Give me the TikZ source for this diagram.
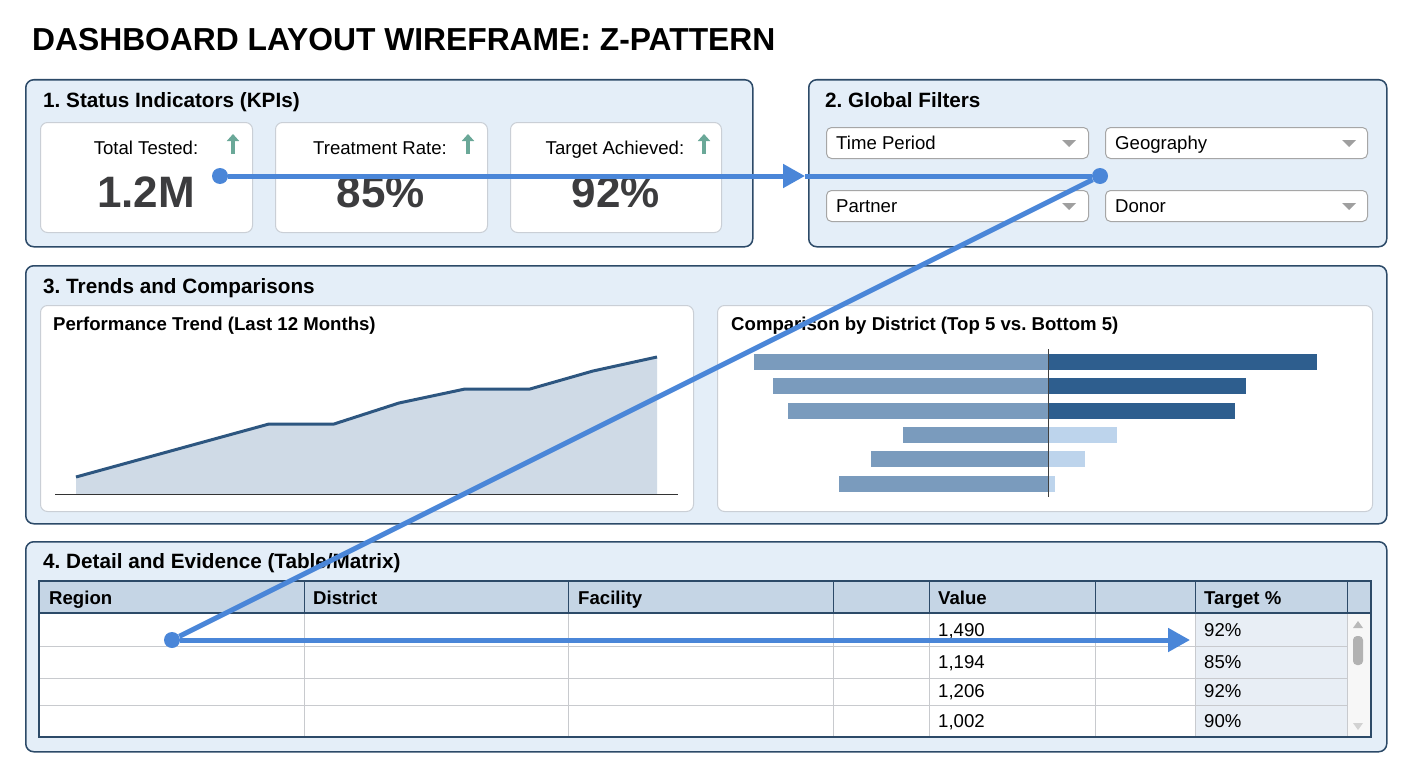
\documentclass[tikz,border=0pt]{standalone}
\usepackage{fontspec}
\setmainfont{Liberation Sans}
\usetikzlibrary{arrows.meta}
\frenchspacing

\definecolor{panelfill}{RGB}{228,238,248}
\definecolor{panelline}{RGB}{44,74,104}
\definecolor{cardline}{RGB}{202,207,214}
\definecolor{upgreen}{RGB}{106,168,152}
\definecolor{bignum}{RGB}{60,60,62}
\definecolor{zblue}{RGB}{74,134,216}
\definecolor{trendline}{RGB}{45,86,128}
\definecolor{trendfill}{RGB}{207,218,230}
\definecolor{barmid}{RGB}{122,155,189}
\definecolor{bardark}{RGB}{46,94,142}
\definecolor{barlight}{RGB}{189,212,236}
\definecolor{headfill}{RGB}{197,213,229}
\definecolor{gridgray}{RGB}{200,202,206}
\definecolor{targetfill}{RGB}{232,238,245}

\begin{document}
\begin{tikzpicture}[x=1pt, y=-1pt,
    panel/.style={draw=panelline, line width=1.5pt, fill=panelfill, rounded corners=8pt, anchor=north west, inner sep=0pt},
    card/.style={draw=cardline, line width=1pt, fill=white, rounded corners=7pt, anchor=north west, inner sep=0pt},
    dropbox/.style={draw=gray!70, line width=1pt, fill=white, rounded corners=5pt, anchor=north west, inner sep=0pt, minimum width=262pt, minimum height=31pt},
    ptitle/.style={anchor=base west, inner sep=0pt, font=\fontsize{20.7}{24}\selectfont\bfseries},
    ctitle/.style={anchor=base west, inner sep=0pt, font=\fontsize{18.6}{22}\selectfont\bfseries},
    kpilabel/.style={anchor=base, inner sep=0pt, font=\fontsize{18.6}{22}\selectfont},
    kpivalue/.style={anchor=base, inner sep=0pt, text=bignum, font=\fontsize{44}{50}\selectfont\bfseries},
    celltext/.style={anchor=base west, inner sep=0pt, font=\fontsize{18.6}{22}\selectfont},
    headtext/.style={celltext, font=\fontsize{18.6}{22}\selectfont\bfseries},
    zdot/.style={circle, fill=zblue, inner sep=0pt, minimum size=16pt},
    zpath/.style={draw=zblue, line width=5pt},
    ztip/.style={-{Triangle[length=22pt, width=23pt]}}]
    \useasboundingbox (0,0) rectangle (1408,768);

    % Title
    \node[anchor=base west, inner sep=0pt, font=\fontsize{31.8}{36}\selectfont\bfseries] (title) at (32,51) {DASHBOARD LAYOUT WIREFRAME: Z-PATTERN};

    % Panels
    \node[panel, minimum width=727pt, minimum height=167pt] (kpis) at (25,79) {};
    \node[panel, minimum width=578pt, minimum height=167pt] (filters) at (808,79) {};
    \node[panel, minimum width=1361pt, minimum height=258pt] (trends) at (25,265) {};
    \node[panel, minimum width=1361pt, minimum height=210pt] (detail) at (25,541) {};

    \node[ptitle] (kpistitle) at (43,107) {1. Status Indicators (KPIs)};
    \node[ptitle] (filterstitle) at (825,107) {2. Global Filters};
    \node[ptitle] (trendstitle) at (43,293) {3. Trends and Comparisons};
    \node[ptitle] (detailtitle) at (43,568) {4. Detail and Evidence (Table/Matrix)};

    % KPI cards
    \node[card, minimum width=212pt, minimum height=110pt] (tested) at (40,122) {};
    \node[card, minimum width=212pt, minimum height=110pt] (treat) at (275,122) {};
    \node[card, minimum width=211pt, minimum height=110pt] (target) at (510,122) {};

    \node[kpilabel] (testedlbl) at (146,154) {Total Tested:};
    \node[kpilabel] (treatlbl) at (380,154) {Treatment Rate:};
    \node[kpilabel] (targetlbl) at (615,154) {Target Achieved:};
    \node[kpivalue] (testedval) at (146,207) {1.2M};
    \node[kpivalue] (treatval) at (381,207) {85\%};
    \node[kpivalue] (targetval) at (616,207) {92\%};

    \foreach \x in {233,468,704}
        \draw[upgreen, line width=3.5pt, -{Triangle[length=7pt, width=12pt]}] (\x,154) -- (\x,134);

    % Filters
    \node[dropbox] (period) at (826,127) {};
    \node[dropbox] (geo) at (1105,127) {};
    \node[dropbox] (partner) at (826,190) {};
    \node[dropbox] (donor) at (1105,190) {};

    \node[celltext] (periodtxt) at (836,149) {Time Period};
    \node[celltext] (geotxt) at (1115,149) {Geography};
    \node[celltext] (partnertxt) at (836,212) {Partner};
    \node[celltext] (donortxt) at (1115,212) {Donor};

    \foreach \x/\y in {1069/140, 1349/140, 1069/203, 1349/203}
        \fill[gray!75] (\x-7,\y) -- (\x+7,\y) -- (\x,\y+7) -- cycle;

    % Trend chart
    \node[card, minimum width=653pt, minimum height=206pt] (trend) at (40,305) {};
    \node[ctitle] (trendtitle) at (53,330) {Performance Trend (Last 12 Months)};
    \fill[trendfill] (76,494) -- (76,477) -- (269,424) -- (334,424) -- (399,403) -- (465,389)
        -- (530,389) -- (593,371) -- (657,357) -- (657,494) -- cycle;
    \draw[trendline, line width=3pt, line join=round] (76,477) -- (269,424) -- (334,424) -- (399,403)
        -- (465,389) -- (530,389) -- (593,371) -- (657,357);
    \draw[black!80, line width=1pt] (55,494) -- (678,494);

    % Comparison chart
    \node[card, minimum width=655pt, minimum height=206pt] (compare) at (717,305) {};
    \node[ctitle] (comparetitle) at (731,330) {Comparison by District (Top 5 vs. Bottom 5)};
    \foreach \y/\l/\r/\c in {354/754/1317/bardark, 378/773/1246/bardark, 403/788/1235/bardark,
                             427/903/1117/barlight, 451/871/1085/barlight, 476/839/1055/barlight} {
        \fill[barmid] (\l,\y) rectangle (1048,\y+16);
        \fill[\c] (1048,\y) rectangle (\r,\y+16);
    }
    \draw[black!75, line width=1pt] (1048,349) -- (1048,497);

    % Table
    \fill[headfill] (39,581) rectangle (1371,613);
    \fill[white] (39,613) rectangle (1371,737);
    \fill[targetfill] (1195,613) rectangle (1347,737);
    \fill[gray!6] (1347,613) rectangle (1371,737);
    \foreach \y in {646,678,705}
        \draw[gridgray, line width=1pt] (39,\y) -- (1347,\y);
    \foreach \x in {304,568,833,929,1095,1195,1347} {
        \draw[panelline, line width=1pt] (\x,581) -- (\x,613);
        \draw[gridgray, line width=1pt] (\x,613) -- (\x,737);
    }
    \draw[panelline, line width=1.2pt] (39,613) -- (1371,613);
    \draw[panelline, line width=1.5pt] (39,581) rectangle (1371,737);

    \node[headtext] (hregion) at (49,604) {Region};
    \node[headtext] (hdistrict) at (313,604) {District};
    \node[headtext] (hfacility) at (578,604) {Facility};
    \node[headtext] (hvalue) at (938,604) {Value};
    \node[headtext] (htarget) at (1204,604) {Target \%};

    \foreach \y/\v/\p [count=\i] in {636/{1,490}/92, 668/{1,194}/85, 697/{1,206}/92, 727/{1,002}/90} {
        \node[celltext] (val\i) at (938,\y) {\v};
        \node[celltext] (pct\i) at (1204,\y) {\p\%};
    }

    % Scrollbar
    \fill[gray!55] (1353,628) -- (1363,628) -- (1358,621) -- cycle;
    \fill[gray!60, rounded corners=4pt] (1353,636) rectangle (1363,665);
    \fill[gray!35] (1353,723) -- (1363,723) -- (1358,730) -- cycle;

    % Z-pattern path
    \node[zdot] (zstart) at (220,176) {};
    \coordinate (zedge) at (805,176);
    \node[zdot] (zturn) at (1100,176) {};
    \node[zdot] (zlow) at (172,640) {};
    \coordinate (zend) at (1190,640);

    \draw[zpath, ztip] (zstart) -- (zedge);
    \draw[zpath] (zedge) -- (zturn);
    \draw[zpath] (zturn) -- (zlow);
    \draw[zpath, ztip] (zlow) -- (zend);
\end{tikzpicture}
\end{document}
